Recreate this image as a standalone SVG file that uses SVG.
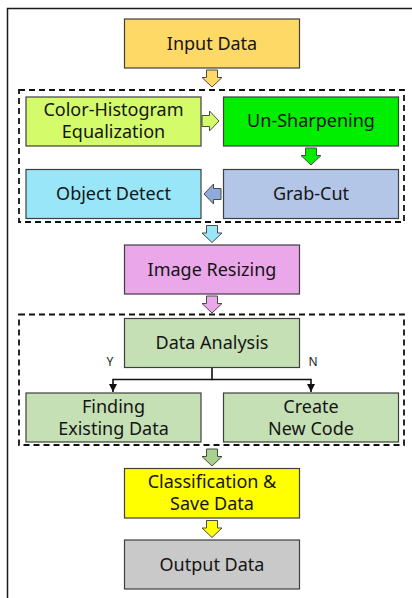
<svg xmlns="http://www.w3.org/2000/svg" xmlns:xlink="http://www.w3.org/1999/xlink" width="412" height="598" viewBox="0 0 412 598">
  <style>
    .box { stroke: #3f3f3f; stroke-width: 1.2; }
    .lbl { font-family: "Noto Sans", "Open Sans", sans-serif; font-size: 18px; fill: #151515; text-anchor: middle; }
    .yn { font-family: "Noto Sans", sans-serif; font-size: 12px; fill: #222; text-anchor: middle; }
    .group { fill: none; stroke: #111; stroke-width: 1.8; stroke-dasharray: 6 4; }
    .blk { stroke: #4a4a4a; stroke-width: 1; }
    .link { fill: none; stroke: #111; stroke-width: 1.6; }
  </style>
  <defs>
    <!-- hollow block arrow pointing down, tip at (0,17) -->
    <path id="blockArrow" d="M-5.5,0 H5.5 V7.5 H10 L0,17 L-10,7.5 H-5.5 Z"/>
    <marker id="tip" viewBox="0 0 10 10" refX="10" refY="5" markerWidth="5" markerHeight="5" orient="auto">
      <path d="M0,0 L10,5 L0,10 Z" fill="#111"/>
    </marker>
  </defs>

  <rect width="412" height="598" fill="#ffffff"/>
  <!-- outer frame -->
  <path d="M7.5,598 V8.5 H412" fill="none" stroke="#1a1a1a" stroke-width="1.5"/>

  <!-- dashed grouping frames -->
  <rect class="group" x="19" y="90" width="385" height="132"/>
  <rect class="group" x="19" y="314.5" width="385" height="130.5"/>

  <g id="connectors">
    <use xlink:href="#blockArrow" class="blk" fill="#ffd966" transform="translate(212,70)"/>
    <use xlink:href="#blockArrow" class="blk" fill="#d4fb6a" transform="translate(202,121) rotate(-90)"/>
    <use xlink:href="#blockArrow" class="blk" fill="#00ee00" transform="translate(311,148)"/>
    <use xlink:href="#blockArrow" class="blk" fill="#8eaadb" transform="translate(221,194) rotate(90)"/>
    <use xlink:href="#blockArrow" class="blk" fill="#99e6f9" transform="translate(212,225.5)"/>
    <use xlink:href="#blockArrow" class="blk" fill="#eaa8ea" transform="translate(212,296)"/>
    <use xlink:href="#blockArrow" class="blk" fill="#a9d18e" transform="translate(212,449)"/>
    <use xlink:href="#blockArrow" class="blk" fill="#ffff00" transform="translate(212,520.5)"/>
    <path class="link" d="M212,367.5 V379.5 H113 V392" marker-end="url(#tip)"/>
    <path class="link" d="M212,379.5 H311 V392" marker-end="url(#tip)"/>
    <text class="yn" x="110" y="366">Y</text>
    <text class="yn" x="313" y="366">N</text>
  </g>

  <g id="input-data">
    <rect class="box" x="124.5" y="19" width="175" height="49" fill="#ffd966"/>
    <text class="lbl" x="212" y="50">Input Data</text>
  </g>
  <g id="color-histogram">
    <rect class="box" x="26" y="97" width="175" height="49" fill="#d4fb6a"/>
    <text class="lbl" x="113.5" y="116">Color-Histogram</text>
    <text class="lbl" x="113.5" y="138">Equalization</text>
  </g>
  <g id="un-sharpening">
    <rect class="box" x="223.5" y="97" width="175" height="49" fill="#00ee00"/>
    <text class="lbl" x="311" y="127">Un-Sharpening</text>
  </g>
  <g id="object-detect">
    <rect class="box" x="26" y="169.5" width="175" height="49" fill="#99e6f9"/>
    <text class="lbl" x="113.5" y="200">Object Detect</text>
  </g>
  <g id="grab-cut">
    <rect class="box" x="223.5" y="169.5" width="175" height="49" fill="#b4c6e7"/>
    <text class="lbl" x="311" y="200">Grab-Cut</text>
  </g>
  <g id="image-resizing">
    <rect class="box" x="124.5" y="245" width="175" height="49" fill="#eaa8ea"/>
    <text class="lbl" x="212" y="276">Image Resizing</text>
  </g>
  <g id="data-analysis">
    <rect class="box" x="124.5" y="318.5" width="175" height="49" fill="#c5e0b4"/>
    <text class="lbl" x="212" y="349">Data Analysis</text>
  </g>
  <g id="finding-existing-data">
    <rect class="box" x="26" y="393" width="175" height="49" fill="#c5e0b4"/>
    <text class="lbl" x="113.5" y="413">Finding</text>
    <text class="lbl" x="113.5" y="435">Existing Data</text>
  </g>
  <g id="create-new-code">
    <rect class="box" x="223.5" y="393" width="175" height="49" fill="#c5e0b4"/>
    <text class="lbl" x="311" y="413">Create</text>
    <text class="lbl" x="311" y="435">New Code</text>
  </g>
  <g id="classification-save-data">
    <rect class="box" x="124.5" y="468.5" width="175" height="49.5" fill="#ffff00"/>
    <text class="lbl" x="212" y="488">Classification &amp;</text>
    <text class="lbl" x="212" y="510">Save Data</text>
  </g>
  <g id="output-data">
    <rect class="box" x="124.5" y="540" width="175" height="49" fill="#c9c9c9"/>
    <text class="lbl" x="212" y="571">Output Data</text>
  </g>
</svg>
